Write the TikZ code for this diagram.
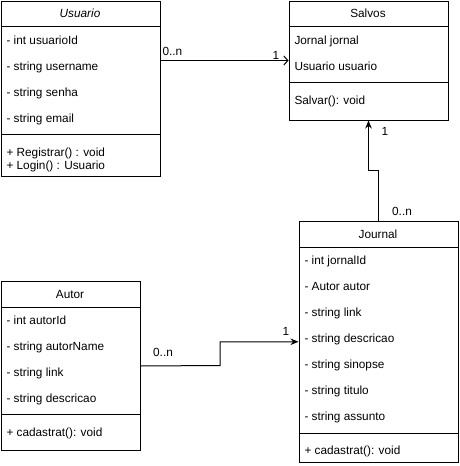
\documentclass[tikz,border=0pt]{standalone}
\usepackage{fontspec}
\setmainfont{Liberation Sans}
\usetikzlibrary{arrows.meta,positioning}

\begin{document}
\begin{tikzpicture}[x=1pt, y=-1pt, line width=1pt,
  classbox/.style={draw, line width=1pt, anchor=north west, inner sep=0pt},
  classname/.style={font=\fontsize{11.8}{13.5}\selectfont, inner sep=0pt, text height=9pt, text depth=1pt},
  member/.style={anchor=west, font=\fontsize{11.8}{13.5}\selectfont, inner sep=0pt, text height=9pt, text depth=1pt},
  mult/.style={font=\fontsize{11.8}{13.5}\selectfont, inner sep=0pt, text height=9pt, text depth=1pt}]
  \useasboundingbox (0,0) rectangle (459,466);

  % Usuario
  \node[classbox, minimum width=159pt, minimum height=175.5pt] (usuario) at (0.5,0.5) {};
  \node[classname] (usuariotitle) at (80,13.5) {\itshape Usuario};
  \draw (0.5,26) -- (159.5,26);
  \node[member] (u1) at (6,40) {- int usuarioId};
  \node[member] (u2) at (6,66) {- string username};
  \node[member] (u3) at (6,92) {- string senha};
  \node[member] (u4) at (6,118) {- string email};
  \draw (0.5,134) -- (159.5,134);
  \node[member] (u5) at (6,152) {+ Registrar() : void};
  \node[member] (u6) at (6,165.5) {+ Login() : Usuario};

  % Salvos
  \node[classbox, minimum width=159pt, minimum height=119pt] (salvos) at (288.5,0.5) {};
  \node[classname] (salvostitle) at (368,13.5) {Salvos};
  \draw (288.5,26) -- (447.5,26);
  \node[member] (s1) at (294,40) {Jornal jornal};
  \node[member] (s2) at (294,66) {Usuario usuario};
  \draw (288.5,82) -- (447.5,82);
  \node[member] (s3) at (294,100) {Salvar(): void};

  % Journal
  \node[classbox, minimum width=159pt, minimum height=241.5pt] (journal) at (298.5,220.5) {};
  \node[classname] (journaltitle) at (378,234) {Journal};
  \draw (298.5,247) -- (457.5,247);
  \node[member] (j1) at (304,260) {- int jornalId};
  \node[member] (j2) at (304,286) {- Autor autor};
  \node[member] (j3) at (304,312) {- string link};
  \node[member] (j4) at (304,338) {- string descricao};
  \node[member] (j5) at (304,364) {- string sinopse};
  \node[member] (j6) at (304,390) {- string titulo};
  \node[member] (j7) at (304,416) {- string assunto};
  \draw (298.5,433) -- (457.5,433);
  \node[member] (j8) at (304,450) {+ cadastrat(): void};

  % Autor
  \node[classbox, minimum width=139pt, minimum height=169pt] (autor) at (0.5,281) {};
  \node[classname] (autortitle) at (70,294.5) {Autor};
  \draw (0.5,307.5) -- (139.5,307.5);
  \node[member] (a1) at (6,320) {- int autorId};
  \node[member] (a2) at (6,346) {- string autorName};
  \node[member] (a3) at (6,372) {- string link};
  \node[member] (a4) at (6,398) {- string descricao};
  \draw (0.5,414) -- (139.5,414);
  \node[member] (a5) at (6,432) {+ cadastrat(): void};

  % connectors
  \draw[-{Straight Barb[length=4pt,width=9pt]}] (usuario.east |- salvos.west) -- (salvos.west);
  \node[mult, anchor=west] (m1) at (162,51) {0..n};
  \node[mult] (m2) at (276,55.5) {1};

  \draw[-{Stealth[length=8pt,width=6.5pt]}] (journal.north) -- (journal.north |- 0,170) -| (salvos.south);
  \node[mult] (m3) at (385,131) {1};
  \node[mult] (m4) at (402,211) {0..n};

  \draw[-{Stealth[length=8pt,width=6.5pt]}] (autor.east) -- (220,365.5) |- (journal.west);
  \node[mult] (m5) at (163,352.5) {0..n};
  \node[mult] (m6) at (286,331.5) {1};
\end{tikzpicture}
\end{document}
